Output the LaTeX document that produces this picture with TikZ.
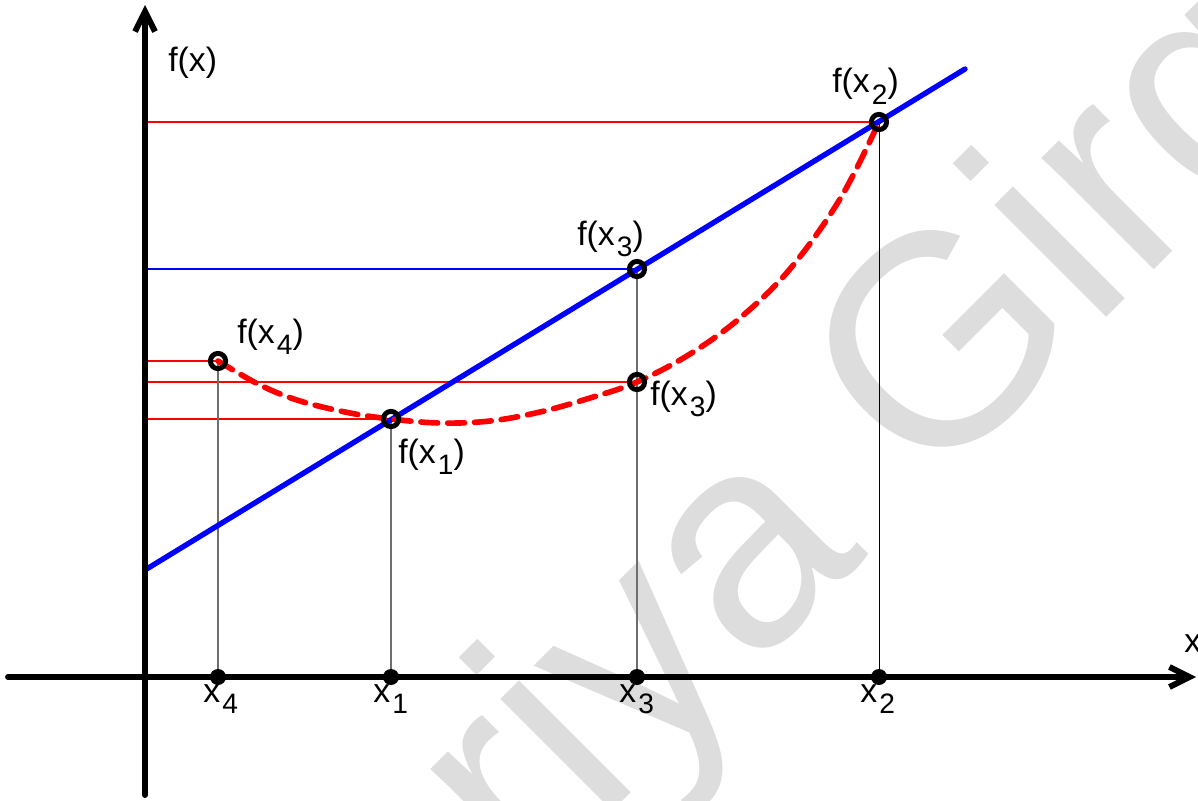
\documentclass[tikz,border=0pt]{standalone}
\usepackage{fontspec}
\setmainfont{Liberation Sans}
\usetikzlibrary{arrows.meta}
\definecolor{wmgray}{RGB}{221,221,221}
\definecolor{guidegray}{RGB}{110,110,110}
\newcommand\sbs[1]{\kern1.5pt\raisebox{-8.5pt}{\fontsize{20}{22}\selectfont #1}}
\begin{document}
\begin{tikzpicture}[x=0.025cm,y=-0.025cm,
  lab/.style={inner sep=0pt, anchor=base west, font=\fontsize{24}{28}\selectfont},
  wmark/.style={inner sep=0pt, anchor=base west, text=wmgray, rotate=45, font=\fontsize{213}{213}\selectfont},
  axisline/.style={line width=4.2pt, line cap=round, -{Straight Barb[length=0.5cm,width=0.5cm]}},
  redguide/.style={red, line width=0.8pt},
  blueguide/.style={blue, line width=0.8pt},
  vguide/.style={guidegray, line width=0.8pt},
  vguidedark/.style={black, line width=0.7pt},
  blueline/.style={blue, line width=3.8pt, line cap=round},
  redcurve/.style={red, line width=4pt, line cap=round, dash pattern=on 0.42cm off 0.25cm},
  ring/.style={black, line width=3.5pt},
  axdot/.style={circle, fill=black, minimum size=0.4cm, inner sep=0pt}
]
\useasboundingbox (0,0) rectangle (1198,801);

% watermark
\begin{scope}
  \clip (0,0) rectangle (1198,801);
  \node[wmark] (wm) at (528,896) {riya Girgin};
\end{scope}

% coordinates
\coordinate (ytop) at (145,5);
\coordinate (ybot) at (145,795);
\coordinate (xleft) at (8,677);
\coordinate (xright) at (1196,677);
\coordinate (X4) at (218,677);
\coordinate (X1) at (391,677);
\coordinate (X3) at (637,677);
\coordinate (X2) at (879,677);
\coordinate (P4) at (218,361);
\coordinate (P1) at (391,419);
\coordinate (P3) at (637,382);
\coordinate (Q3) at (637,269);
\coordinate (P2) at (879,122);
\coordinate (Y4) at (145,361);
\coordinate (Y1) at (145,419);
\coordinate (Y3) at (145,382);
\coordinate (YQ3) at (145,269);
\coordinate (Y2) at (145,122);
\coordinate (B0) at (145,570);
\coordinate (B1) at (965,69);

% horizontal guides
\draw[redguide] (Y2) -- (P2);
\draw[blueguide] (YQ3) -- (Q3);
\draw[redguide] (Y4) -- (P4);
\draw[redguide] (Y3) -- (P3);
\draw[redguide] (Y1) -- (P1);

% vertical guides
\draw[vguide] (P4) -- (X4);
\draw[vguide] (P1) -- (X1);
\draw[vguide] (Q3) -- (X3);
\draw[vguidedark] (P2) -- (X2);

% blue line
\draw[blueline] (B0) -- (B1);

% red dashed curve
\draw[redcurve] plot[smooth, tension=0.6] coordinates {(P4) (260,385) (300,401) (350,413) (P1) (440,423) (490,421) (540,412) (590,398) (P3) (690,354) (740,318) (790,269) (840,199) (P2)};

% rings
\foreach \p in {P4,P1,P3,Q3,P2} \draw[ring] (\p) circle[radius=0.19cm];

% axes
\draw[axisline] (ybot) -- (ytop);
\draw[axisline] (xleft) -- (xright);

% axis dots
\node[axdot] (d4) at (X4) {};
\node[axdot] (d1) at (X1) {};
\node[axdot] (d3) at (X3) {};
\node[axdot] (d2) at (X2) {};

% labels
\node[lab] (lfx) at (168,72) {f(x)};
\node[lab] (lx) at (1184,652) {x};
\node[lab] (lf2) at (832,93) {f(x\sbs{2})};
\node[lab] (lf3u) at (577,245) {f(x\sbs{3})};
\node[lab] (lf3l) at (650,405) {f(x\sbs{3})};
\node[lab] (lf4) at (237,343) {f(x\sbs{4})};
\node[lab] (lf1) at (398,463) {f(x\sbs{1})};
\node[lab] (lx4) at (203,702) {x\sbs{4}};
\node[lab] (lx1) at (373,702) {x\sbs{1}};
\node[lab] (lx3) at (619,702) {x\sbs{3}};
\node[lab] (lx2) at (860,702) {x\sbs{2}};
\end{tikzpicture}
\end{document}
